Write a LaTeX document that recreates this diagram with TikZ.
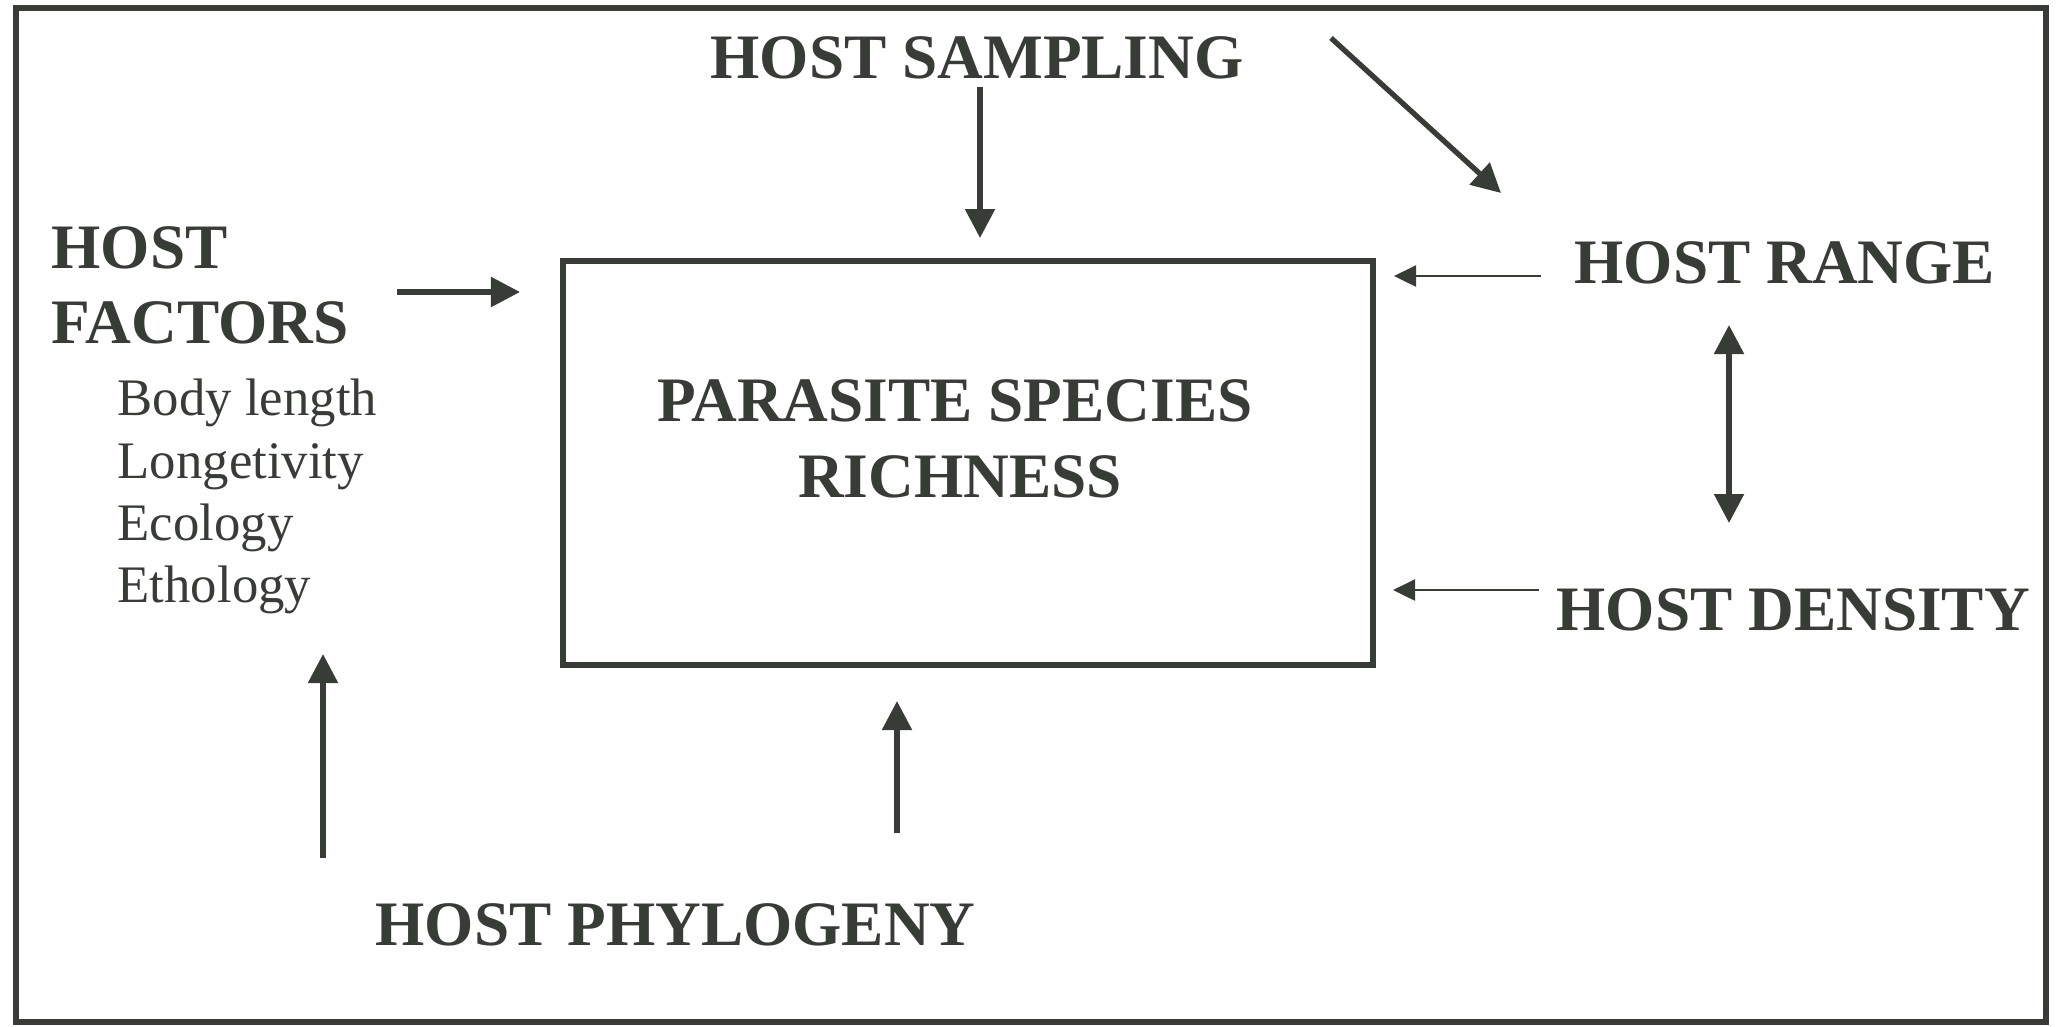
\documentclass[tikz,border=0pt]{standalone}
\usepackage{fontspec}
\setmainfont{Liberation Serif}
\usetikzlibrary{arrows.meta}
\definecolor{ink}{RGB}{55,60,55}
\begin{document}
\begin{tikzpicture}[x=0.01cm,y=-0.01cm,
  head/.style={font=\fontsize{18}{21}\selectfont\bfseries, text=ink, inner sep=0, anchor=base west},
  item/.style={font=\fontsize{15}{18}\selectfont, text=ink, inner sep=0, anchor=base west},
  bigarrow/.style={draw=ink, line width=1.5pt, -{Triangle[length=0.29cm,width=0.29cm]}},
  bigdouble/.style={draw=ink, line width=1.5pt, {Triangle[length=0.29cm,width=0.29cm]}-{Triangle[length=0.29cm,width=0.29cm]}},
  smallarrow/.style={draw=ink, line width=0.7pt, -{Triangle[length=0.22cm,width=0.21cm]}},
]
\useasboundingbox (0,0) rectangle (2058,1026);
\draw[ink, line width=1.7pt] (16,8) rectangle (2046,1022);

% central box
\node[draw=ink, line width=1.6pt, minimum width=8.1cm, minimum height=4.04cm, inner sep=0] (box) at (968,463) {};
\node[head, anchor=base] (psr1) at (955,421) {PARASITE SPECIES};
\node[head, anchor=base] (psr2) at (960,497) {RICHNESS};

% labels
\node[head] (samp) at (710,78) {HOST SAMPLING};
\node[head] (hf1) at (51,268) {HOST};
\node[head] (hf2) at (51,343) {FACTORS};
\node[item] (it1) at (117,415) {Body length};
\node[item] (it2) at (117,478) {Longetivity};
\node[item] (it3) at (117,540) {Ecology};
\node[item] (it4) at (117,602) {Ethology};
\node[head] (range) at (1574,283) {HOST RANGE};
\node[head] (dens) at (1556,630) {HOST DENSITY};
\node[head] (phyl) at (375,945) {HOST PHYLOGENY};

% arrow end points
\coordinate (sampA) at (980,87);
\coordinate (sampB) at (980,238);
\coordinate (diagA) at (1331,38);
\coordinate (diagB) at (1501,193);
\coordinate (factA) at (397,292);
\coordinate (factB) at (520,292);
\coordinate (rangeA) at (1541,276);
\coordinate (rangeB) at (1394,276);
\coordinate (densA) at (1539,590);
\coordinate (densB) at (1393,590);
\coordinate (dblA) at (1729,325);
\coordinate (dblB) at (1729,523);
\coordinate (phyA) at (323,858);
\coordinate (phyB) at (323,654);
\coordinate (phcA) at (897,833);
\coordinate (phcB) at (897,701);

\draw[bigarrow] (sampA) -- (sampB);
\draw[bigarrow] (diagA) -- (diagB);
\draw[bigarrow] (factA) -- (factB);
\draw[smallarrow] (rangeA) -- (rangeB);
\draw[smallarrow] (densA) -- (densB);
\draw[bigdouble] (dblA) -- (dblB);
\draw[bigarrow] (phyA) -- (phyB);
\draw[bigarrow] (phcA) -- (phcB);
\end{tikzpicture}
\end{document}
